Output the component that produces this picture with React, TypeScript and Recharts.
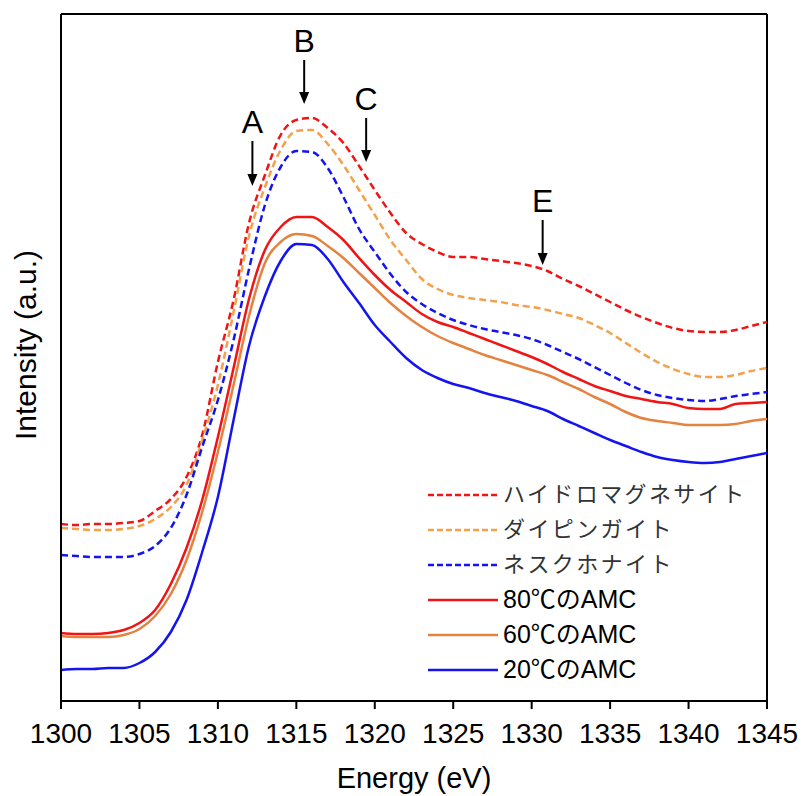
import React from 'react';
import { LineChart, Line, XAxis, YAxis, ReferenceLine, Label } from 'recharts';

// photon energy (eV)
const energies = [
    1300, 1301, 1302, 1303, 1304, 1305, 1306, 1307, 1308, 1309,
    1310, 1311, 1312, 1313, 1314, 1315, 1316, 1317, 1318, 1319,
    1320, 1321, 1322, 1323, 1324, 1325, 1326, 1327, 1328, 1329,
    1330, 1331, 1332, 1333, 1334, 1335, 1336, 1337, 1338, 1339,
    1340, 1341, 1342, 1343, 1344, 1345,
];

// intensities (a.u.)
const hydromagnesite = [
    177, 176, 177, 177, 178, 180, 190, 202, 224, 266,
    339, 401, 479, 526, 566, 581, 583, 573, 558, 535,
    511, 488, 468, 457, 449, 444, 444, 442, 440, 438,
    435, 430, 422, 415, 407, 399, 391, 384, 378, 373,
    370, 369, 369, 371, 375, 379,
];
const dypingite = [
    173, 172, 171, 171, 172, 175, 182, 194, 216, 261,
    316, 389, 466, 514, 551, 570, 571, 557, 536, 511,
    486, 461, 441, 422, 412, 406, 403, 401, 399, 396,
    394, 391, 387, 383, 376, 368, 358, 348, 339, 332,
    327, 324, 324, 326, 330, 333,
];
const nesquehonite = [
    146, 145, 144, 144, 144, 147, 155, 173, 206, 254,
    301, 361, 433, 496, 534, 550, 549, 533, 504, 472,
    449, 427, 409, 397, 388, 381, 376, 372, 369, 366,
    362, 356, 349, 342, 334, 326, 318, 311, 306, 303,
    301, 300, 302, 305, 307, 309,
];
const amc80 = [
    68, 67, 67, 68, 71, 78, 91, 117, 153, 201,
    264, 333, 403, 451, 474, 484, 484, 474, 461, 443,
    426, 411, 399, 387, 379, 374, 368, 362, 356, 350,
    344, 337, 329, 322, 315, 310, 305, 302, 299, 297,
    293, 292, 292, 297, 298, 299,
];
const amc60 = [
    65, 64, 64, 64, 66, 72, 85, 107, 141, 189,
    249, 316, 386, 438, 459, 467, 465, 455, 443, 428,
    413, 398, 385, 374, 365, 358, 352, 346, 341, 336,
    331, 326, 319, 312, 304, 297, 289, 283, 280, 278,
    276, 276, 276, 277, 280, 282,
];
const amc20 = [
    31, 32, 32, 33, 33, 38, 49, 69, 101, 149,
    204, 281, 356, 405, 440, 457, 456, 442, 419, 398,
    376, 359, 343, 331, 323, 317, 313, 308, 304, 300,
    295, 290, 282, 275, 268, 261, 255, 249, 244, 241,
    239, 238, 239, 242, 245, 248,
];

const seriesKeys = ['hm', 'dp', 'nq', 'a80', 'a60', 'a20'];
const seriesNames = ['ハイドロマグネサイト', 'ダイピンガイト', 'ネスクホナイト', '80℃のAMC', '60℃のAMC', '20℃のAMC'];
const seriesColors = ['#f01414', '#f5a04a', '#1414f0', '#f01414', '#e4823f', '#1414f0'];
const seriesDashed = [true, true, true, false, false, false];
const seriesValues = [hydromagnesite, dypingite, nesquehonite, amc80, amc60, amc20];

const xTicks = [1300, 1305, 1310, 1315, 1320, 1325, 1330, 1335, 1340, 1345];

// peak markers
const peakLabels = ['A', 'B', 'C', 'E'];
const peakEnergy = [1312.2, 1315.5, 1319.45, 1330.7];
const peakArrowTop = [560, 641, 583, 481];
const peakArrowBottom = [515, 597, 539, 436];

const Y_MAX = 687;
const FONT = '"Liberation Sans", Arial, "Noto Sans CJK JP", sans-serif';

const chartData = energies.map((e, i) => {
    const row: Record<string, number> = { energy: e };
    seriesKeys.forEach((k, s) => {
        row[k] = seriesValues[s][i];
    });
    return row;
});

const PeakArrow = (props: any) => {
    const { x1, y1, y2, label } = props;
    const head = 12;
    return (
        <g>
            <text x={x1} y={y1 - 8} textAnchor="middle" fontSize={32} fontFamily={FONT} fill="#000">{label}</text>
            <line x1={x1} y1={y1} x2={x1} y2={y2 - head + 1} stroke="#000" strokeWidth={2} />
            <polygon points={`${x1 - 5},${y2 - head} ${x1 + 5},${y2 - head} ${x1},${y2}`} fill="#000" />
        </g>
    );
};

const ChartLegend = () => (
    <div style={{ position: 'absolute', left: 426, top: 477, fontFamily: FONT, color: '#111' }}>
        {seriesNames.map((name, i) => (
            <div key={name} style={{ display: 'flex', alignItems: 'center', height: 35 }}>
                <svg width={74} height={10}>
                    <line
                        x1={2}
                        y1={5}
                        x2={72}
                        y2={5}
                        stroke={seriesColors[i]}
                        strokeWidth={2.5}
                        strokeDasharray={seriesDashed[i] ? '6 3' : undefined}
                    />
                </svg>
                <span
                    style={{
                        marginLeft: 3,
                        lineHeight: '35px',
                        whiteSpace: 'nowrap',
                        fontSize: seriesDashed[i] ? 22 : 25,
                        letterSpacing: seriesDashed[i] ? 2.4 : 0,
                        color: seriesDashed[i] ? '#333' : '#000',
                    }}
                >
                    {name}
                </span>
            </div>
        ))}
    </div>
);

const App: React.FC = () => {
    return (
        <div style={{ position: 'absolute', left: 0, top: 0, width: 803, height: 796, background: '#fff' }}>
            <LineChart width={803} height={796} data={chartData} margin={{ top: 14, right: 36, bottom: 0, left: 0 }}>
                <XAxis
                    dataKey="energy"
                    type="number"
                    domain={[1300, 1345]}
                    ticks={xTicks}
                    allowDataOverflow
                    height={95}
                    tickSize={8}
                    tickMargin={14}
                    tick={{ fill: '#000', fontSize: 28, fontFamily: FONT }}
                    axisLine={{ stroke: '#000', strokeWidth: 2 }}
                    tickLine={{ stroke: '#000', strokeWidth: 2 }}
                >
                    <Label
                        content={(p: any) => {
                            const vb = p.viewBox;
                            return (
                                <text x={vb.x + vb.width / 2} y={vb.y + 87} textAnchor="middle" fontSize={29} fontFamily={FONT} fill="#000">
                                    Energy (eV)
                                </text>
                            );
                        }}
                    />
                </XAxis>
                <YAxis
                    type="number"
                    domain={[0, Y_MAX]}
                    allowDataOverflow
                    width={61}
                    tick={false}
                    tickLine={false}
                    axisLine={{ stroke: '#000', strokeWidth: 2 }}
                >
                    <Label
                        content={() => (
                            <text x={36} y={345} transform="rotate(-90 36 345)" textAnchor="middle" fontSize={30} fontFamily={FONT} fill="#000">
                                Intensity (a.u.)
                            </text>
                        )}
                    />
                </YAxis>
                <ReferenceLine y={Y_MAX} stroke="#000" strokeWidth={2} />
                <ReferenceLine x={1345} stroke="#000" strokeWidth={2} />
                {seriesKeys.map((k, i) => (
                    <Line
                        key={k}
                        dataKey={k}
                        type="monotone"
                        stroke={seriesColors[i]}
                        strokeWidth={2.5}
                        strokeDasharray={seriesDashed[i] ? '7 4' : undefined}
                        dot={false}
                        activeDot={false}
                        isAnimationActive={false}
                    />
                ))}
                {peakLabels.map((lab, i) => (
                    <ReferenceLine
                        key={lab}
                        segment={[{ x: peakEnergy[i], y: peakArrowTop[i] }, { x: peakEnergy[i], y: peakArrowBottom[i] }]}
                        shape={(p: any) => <PeakArrow {...p} label={lab} />}
                    />
                ))}
            </LineChart>
            <ChartLegend />
        </div>
    );
};

export default App;
